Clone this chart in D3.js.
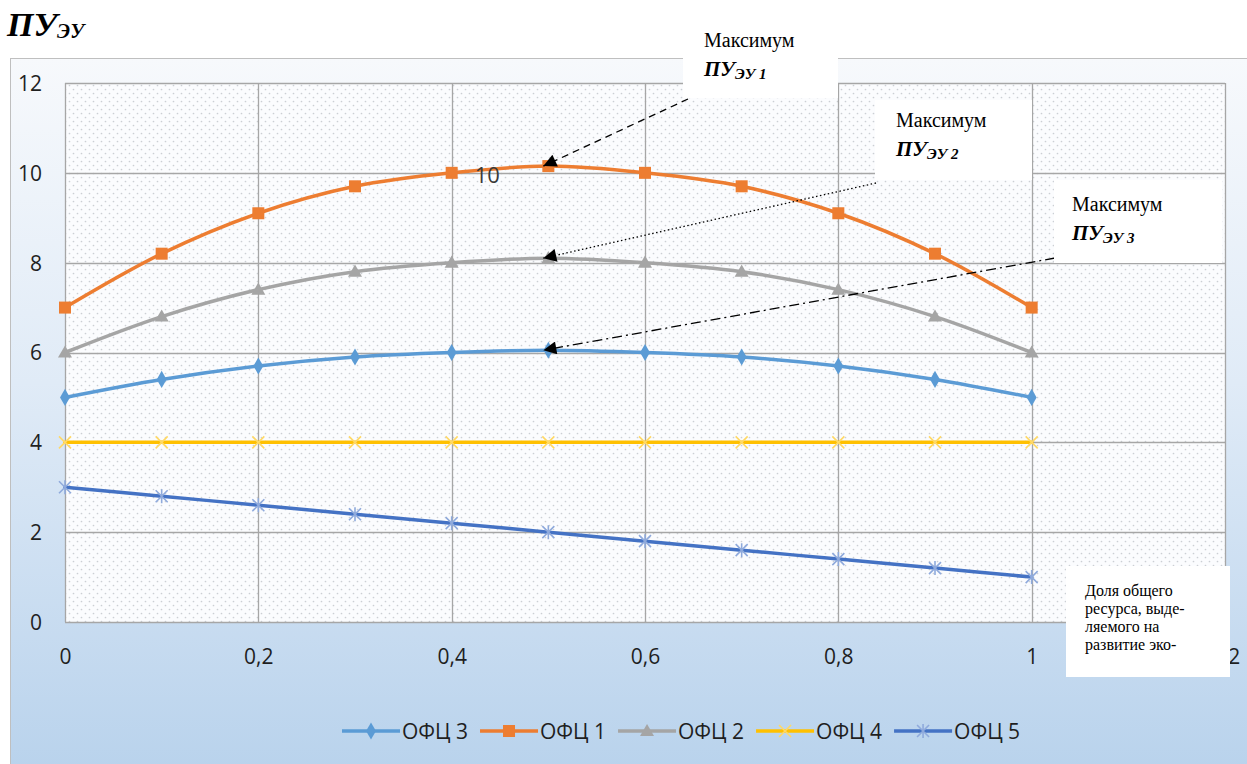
<!DOCTYPE html>
<html><head><meta charset="utf-8">
<script src="https://cdn.jsdelivr.net/npm/d3@7"></script>
<style>
html,body{margin:0;padding:0;background:#fff;}
svg{display:block;}
</style></head>
<body>
<svg id="chart" width="1247" height="764"></svg>
<script>
// ---- data ----
const xValues = [0,0.1,0.2,0.3,0.4,0.5,0.6,0.7,0.8,0.9,1];
const ofc3 = [5,5.4,5.7,5.9,6,6.05,6,5.9,5.7,5.4,5];
const ofc1 = [7,8.2,9.1,9.7,10,10.15,10,9.7,9.1,8.2,7];
const ofc2 = [6,6.8,7.4,7.8,8,8.1,8,7.8,7.4,6.8,6];
const ofc4 = [4,4,4,4,4,4,4,4,4,4,4];
const ofc5 = [3,2.8,2.6,2.4,2.2,2,1.8,1.6,1.4,1.2,1];
const seriesNames = ["ОФЦ 3","ОФЦ 1","ОФЦ 2","ОФЦ 4","ОФЦ 5"];
const xTicks = [0,0.2,0.4,0.6,0.8,1,1.2];
const yTicks = [0,2,4,6,8,10,12];

const svg = d3.select("#chart");
const defs = svg.append("defs");
const grad = defs.append("linearGradient").attr("id","bg").attr("x1",0).attr("y1",0).attr("x2",0).attr("y2",1);
grad.append("stop").attr("offset","0%").attr("stop-color","#f7f9fc");
grad.append("stop").attr("offset","45%").attr("stop-color","#e0ebf7");
grad.append("stop").attr("offset","100%").attr("stop-color","#b8d2ec");
const pat = defs.append("pattern").attr("id","dots").attr("width",8).attr("height",8).attr("patternUnits","userSpaceOnUse");
pat.append("rect").attr("width",8).attr("height",8).attr("fill","#fbfcfe");
pat.append("circle").attr("cx",1.5).attr("cy",1.5).attr("r",0.85).attr("fill","#cbcfd4");
pat.append("circle").attr("cx",5.5).attr("cy",5.5).attr("r",0.85).attr("fill","#cbcfd4");
const arrowM = defs.append("marker").attr("id","arr").attr("viewBox","0 0 10 10").attr("refX",10).attr("refY",5)
  .attr("markerWidth",17).attr("markerHeight",13).attr("markerUnits","userSpaceOnUse").attr("orient","auto");
arrowM.append("path").attr("d","M0,0L10,5L0,10Z").attr("fill","#000");

// chart area
svg.append("rect").attr("x",10.5).attr("y",58.5).attr("width",1250).attr("height",720)
  .attr("fill","url(#bg)").attr("stroke","#bfbfbf");

const x = d3.scaleLinear().domain([0,1.2]).range([65,1225]);
const y = d3.scaleLinear().domain([0,12]).range([622,83]);

// plot area
svg.append("rect").attr("x",x(0)).attr("y",y(12)).attr("width",x(1.2)-x(0)).attr("height",y(0)-y(12))
  .attr("fill","url(#dots)");

// grid
const g = svg.append("g");
g.selectAll(".hg").data(yTicks).join("line").attr("x1",x(0)).attr("x2",x(1.2))
  .attr("y1",d=>Math.round(y(d))+0.5).attr("y2",d=>Math.round(y(d))+0.5).attr("stroke","#a6a6a6").attr("stroke-width",1.3);
g.selectAll(".vg").data(xTicks).join("line").attr("y1",y(0)).attr("y2",y(12))
  .attr("x1",d=>Math.round(x(d))+0.5).attr("x2",d=>Math.round(x(d))+0.5).attr("stroke","#a6a6a6").attr("stroke-width",1.3);

// axes (no lines, only labels)
const fmt = d => String(d).replace(".",",");
const yAxis = d3.axisLeft(y).tickValues(yTicks).tickSize(0).tickPadding(0).tickFormat(fmt);
const ya = svg.append("g").attr("transform","translate(42,0)").call(yAxis);
ya.select(".domain").remove();
ya.selectAll("text").attr("font-family","Open Sans, sans-serif").attr("font-size",21).attr("fill","#1f1f1f").attr("dy","0.35em");
const xAxis = d3.axisBottom(x).tickValues(xTicks).tickSize(0).tickPadding(0).tickFormat(fmt);
const xa = svg.append("g").attr("transform","translate(0,649)").call(xAxis);
xa.select(".domain").remove();
xa.selectAll("text").attr("font-family","Open Sans, sans-serif").attr("font-size",21).attr("fill","#1f1f1f").attr("dy","0.71em");

// series
const colors = ["#5b9bd5","#ed7d31","#a5a5a5","#ffc000","#4472c4"];
const markerCol = ["#5b9bd5","#ed7d31","#a5a5a5","#ffd966","#8faadc"];
const allSeries = [ofc3,ofc1,ofc2,ofc4,ofc5];
const line = d3.line().x((d,i)=>x(xValues[i])).y(d=>y(d)).curve(d3.curveCatmullRom.alpha(0.5));

function drawMarker(sel, k, cx, cy){
  const c = markerCol[k];
  if (k===0) sel.append("path").attr("d",d3.symbol(d3.symbolDiamond,85)()).attr("transform",`translate(${cx},${cy})`).attr("fill",c);
  else if (k===1) sel.append("rect").attr("x",cx-6).attr("y",cy-6).attr("width",12).attr("height",12).attr("fill",c);
  else if (k===2) sel.append("path").attr("d",d3.symbol(d3.symbolTriangle,85)()).attr("transform",`translate(${cx},${cy+1})`).attr("fill",c);
  else if (k===3) sel.append("path").attr("d",`M${cx-6},${cy-6}L${cx+6},${cy+6}M${cx-6},${cy+6}L${cx+6},${cy-6}`).attr("stroke",c).attr("stroke-width",1.6);
  else sel.append("path").attr("d",`M${cx-6},${cy-6}L${cx+6},${cy+6}M${cx-6},${cy+6}L${cx+6},${cy-6}M${cx},${cy-7}L${cx},${cy+7}`).attr("stroke",c).attr("stroke-width",1.6);
}

const drawOrder = [4,3,0,2,1];
drawOrder.forEach(k=>{
  const data = allSeries[k];
  const sg = svg.append("g");
  sg.append("path").datum(data).attr("d",line).attr("fill","none").attr("stroke",colors[k]).attr("stroke-width",3.5).attr("stroke-linecap","round");
  data.forEach((v,i)=>drawMarker(sg,k,x(xValues[i]),y(v)));
});

// data label "10"
svg.append("text").attr("x",x(0.4)+23).attr("y",y(ofc1[4])+10).attr("font-family","Open Sans, sans-serif")
  .attr("font-size",22).attr("fill","#3a3a3a").text(fmt(ofc1[4]));

// title
const title = svg.append("text").attr("x",7).attr("y",36).attr("font-family","Liberation Serif, serif")
  .attr("font-weight","bold").attr("font-style","italic").attr("fill","#000");
title.append("tspan").attr("font-size",34).text("ПУ");
title.append("tspan").attr("font-size",20).attr("dy",2).text("ЭУ");

// annotation boxes
const notes = [
  {box:[683,16,155,82], tx:704, ty:47, sub:"ЭУ 1", from:[688,99], dash:"7,5", series:ofc1},
  {box:[875,100,157,80], tx:896, ty:127, sub:"ЭУ 2", from:[876,183], dash:"1.5,2.5", series:ofc2},
  {box:[1054,180,168,83], tx:1072, ty:211, sub:"ЭУ 3", from:[1055,258], dash:"10,4,2,4", series:ofc3}
];
notes.forEach(n=>{
  const tip = [x(xValues[5])-5, y(n.series[5])];
  svg.append("line").attr("x1",n.from[0]).attr("y1",n.from[1]).attr("x2",tip[0]).attr("y2",tip[1])
    .attr("stroke","#000").attr("stroke-width",1.3).attr("stroke-dasharray",n.dash).attr("marker-end","url(#arr)");
});
notes.forEach(n=>{
  svg.append("rect").attr("x",n.box[0]).attr("y",n.box[1]).attr("width",n.box[2]).attr("height",n.box[3]).attr("fill","#fff");
  svg.append("text").attr("x",n.tx).attr("y",n.ty).attr("font-family","Liberation Serif, serif").attr("font-size",20).attr("fill","#000").text("Максимум");
  const t = svg.append("text").attr("x",n.tx).attr("y",n.ty+29).attr("font-family","Liberation Serif, serif")
    .attr("font-weight","bold").attr("font-style","italic").attr("fill","#000");
  t.append("tspan").attr("font-size",21).text("ПУ");
  t.append("tspan").attr("font-size",15).attr("dy",3).text(n.sub);
});

// x-axis caption box
svg.append("rect").attr("x",1066).attr("y",566).attr("width",164).attr("height",111).attr("fill","#fff");
const capLines = ["Доля общего","ресурса, выде-","ляемого на","развитие эко-"];
svg.append("g").selectAll("text").data(capLines).join("text").attr("x",1085).attr("y",(d,i)=>596+i*18)
  .attr("font-family","Liberation Serif, serif").attr("font-size",16).attr("fill","#000").text(d=>d);

// legend
const lg = svg.append("g");
let lx = 342;
const ly = 731;
seriesNames.forEach((name,k)=>{
  lg.append("line").attr("x1",lx).attr("x2",lx+58).attr("y1",ly).attr("y2",ly).attr("stroke",colors[k]).attr("stroke-width",3.5);
  drawMarker(lg,k,lx+29,ly);
  const t = lg.append("text").attr("x",lx+60).attr("y",ly+8).attr("font-family","Open Sans, sans-serif")
    .attr("font-size",21).attr("fill","#1f1f1f").text(name);
  lx = lx + 60 + t.node().getComputedTextLength() + 12;
});
</script>
</body></html>
